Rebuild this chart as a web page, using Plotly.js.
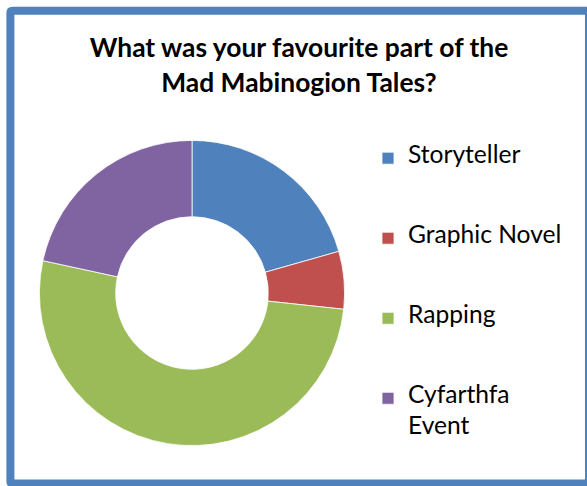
<!DOCTYPE html>
<html>
<head>
<meta charset="utf-8">
<script src="https://cdn.plot.ly/plotly-3.0.1.min.js"></script>
<style>
  html, body { margin: 0; padding: 0; background: #ffffff; }
  #chart { width: 587px; height: 486px; }
</style>
</head>
<body>
<div id="chart"></div>
<script>
// ---- data ----
const categories = ['Storyteller', 'Graphic Novel', 'Rapping', 'Cyfarthfa Event'];
const legendLabels = ['Storyteller', 'Graphic Novel', 'Rapping', 'Cyfarthfa<br>Event'];
const shares = [20.6, 6.1, 51.7, 21.6];   // percent of responses
const sliceColors = ['#4F81BD', '#C0504D', '#9BBB59', '#8064A2'];
const titleLines = ['What was your favourite part of the', 'Mad Mabinogion Tales?'];

const W = 587, H = 486;
const px = v => v / W;
const py = v => 1 - v / H;

// legend: each entry padded to the same number of text lines so entries sit evenly apart
const LEG_LINES = 5;
const legText = legendLabels.map(l => {
  const parts = l.split('<br>');
  const lines = [];
  parts.forEach((p, i) => {
    lines.push("<span style='font-size:24.6px'>" + p + "</span>");
    if (i < parts.length - 1) lines.push('');
  });
  while (lines.length < LEG_LINES) lines.push('');
  return lines.join('<br>');
});

// pie centre / radius in pixels
const cx = 192, cy = 293, R = 152.6;

const trace = {
  type: 'pie',
  labels: legText,
  values: shares,
  hole: 0.5,
  sort: false,
  direction: 'clockwise',
  rotation: 0,
  textinfo: 'none',
  hoverinfo: 'percent',
  marker: { colors: sliceColors, line: { color: '#ffffff', width: 0.8 } },
  domain: { x: [px(cx - R), px(cx + R)], y: [py(cy + R), py(cy - R)] }
};

// rounded border path (pixel -> paper)
const bl = 10.4, bt = 10.8, br = 589, bb = 483.5, r = 2;
const P = (x, y) => px(x) + ',' + py(y);
const borderPath =
  'M' + P(bl + r, bt) + ' L' + P(br - r, bt) + ' Q' + P(br, bt) + ' ' + P(br, bt + r) +
  ' L' + P(br, bb - r) + ' Q' + P(br, bb) + ' ' + P(br - r, bb) +
  ' L' + P(bl + r, bb) + ' Q' + P(bl, bb) + ' ' + P(bl, bb - r) +
  ' L' + P(bl, bt + r) + ' Q' + P(bl, bt) + ' ' + P(bl + r, bt) + ' Z';

const layout = {
  width: W, height: H,
  margin: { l: 0, r: 0, t: 0, b: 0 },
  paper_bgcolor: '#ffffff',
  font: { family: 'Lato, "Open Sans", sans-serif', color: '#000000' },
  title: {
    text: titleLines.map(t => "<span style='font-size:26.4px'>" + t + "</span>").join('<br>'),
    font: { family: 'Lato, "Open Sans", sans-serif', size: 26.7, weight: 'bold', color: '#000000' },
    xref: 'paper', x: px(299), xanchor: 'center',
    yref: 'container', y: py(57), yanchor: 'top'
  },
  showlegend: true,
  legend: {
    x: px(368), xanchor: 'left',
    y: py(144), yanchor: 'top',
    font: { family: 'Lato, "Open Sans", sans-serif', size: 11.85, color: '#000000' },
    valign: 'top',
    bgcolor: 'rgba(0,0,0,0)',
    borderwidth: 0,
    traceorder: 'normal'
  },
  shapes: [{
    type: 'path', xref: 'paper', yref: 'paper', path: borderPath,
    line: { color: '#4F81BD', width: 8 }, fillcolor: 'rgba(0,0,0,0)', layer: 'above'
  }]
};

Plotly.newPlot('chart', [trace], layout, { displayModeBar: false, staticPlot: true });
</script>
</body>
</html>
